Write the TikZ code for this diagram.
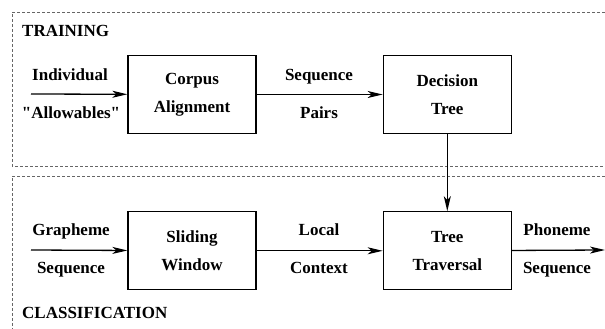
\documentclass[tikz,border=0pt]{standalone}
\usepackage{fontspec}
\setmainfont{Liberation Serif}[Ligatures=TeXOff]
\usepackage{tikz}
\usetikzlibrary{arrows.meta,positioning}

\begin{document}
\begin{tikzpicture}[
    x=1pt, y=1pt,
    font=\fontsize{17}{28}\selectfont\bfseries,
    block/.style={rectangle, draw, line width=1.3pt, minimum width=128pt, minimum height=78pt, align=center, inner sep=0pt},
    region/.style={draw=black!60, line width=0.7pt, dash pattern=on 3pt off 2pt},
    lbl/.style={anchor=base, inner sep=0pt},
    flow/.style={line width=1.3pt, -{Stealth[length=15pt,width=7pt,inset=4pt]}},
    node distance=126pt
]
    \useasboundingbox (0,0) rectangle (605,329);

    % Regions
    \draw[region] (605,317) -- (12,317) -- (12,163) -- (605,163);
    \draw[region] (605,153) -- (12,153) -- (12,0);
    \node[anchor=west, inner sep=0pt] (training) at (22,298) {TRAINING};
    \node[anchor=west, inner sep=0pt] (classification) at (22,16) {CLASSIFICATION};

    % Training
    \node[block] (corpus) at (192,234.5) {Corpus\\Alignment};
    \node[block, right=of corpus] (tree) {Decision\\Tree};

    % Classification
    \node[block, below=77pt of corpus] (window) {Sliding\\Window};
    \node[block, right=of window] (traversal) {Tree\\Traversal};

    \coordinate (in) at (31,235);
    \coordinate (gin) at (31,79);
    \coordinate (outend) at (605,79);

    % Labels
    \node[lbl] (individual) at (70,248) {Individual};
    \node[lbl] (allowables) at (71,210) {"Allowables"};
    \node[lbl] (pairseq) at (319,248) {Sequence};
    \node[lbl] (pairs) at (319,210) {Pairs};
    \node[lbl] (grapheme) at (71,93) {Grapheme};
    \node[lbl] (graphseq) at (71,55) {Sequence};
    \node[lbl] (local) at (319,93) {Local};
    \node[lbl] (context) at (319,55) {Context};
    \node[lbl] (phoneme) at (557,93) {Phoneme};
    \node[lbl] (phonseq) at (557,55) {Sequence};

    \draw[flow] (in) -- (corpus);
    \draw[flow] (corpus) -- (tree);
    \draw[flow] (tree) -- (traversal);
    \draw[flow] (gin) -- (window);
    \draw[flow] (window) -- (traversal);
    \draw[flow] (traversal) -- (outend);
\end{tikzpicture}
\end{document}
